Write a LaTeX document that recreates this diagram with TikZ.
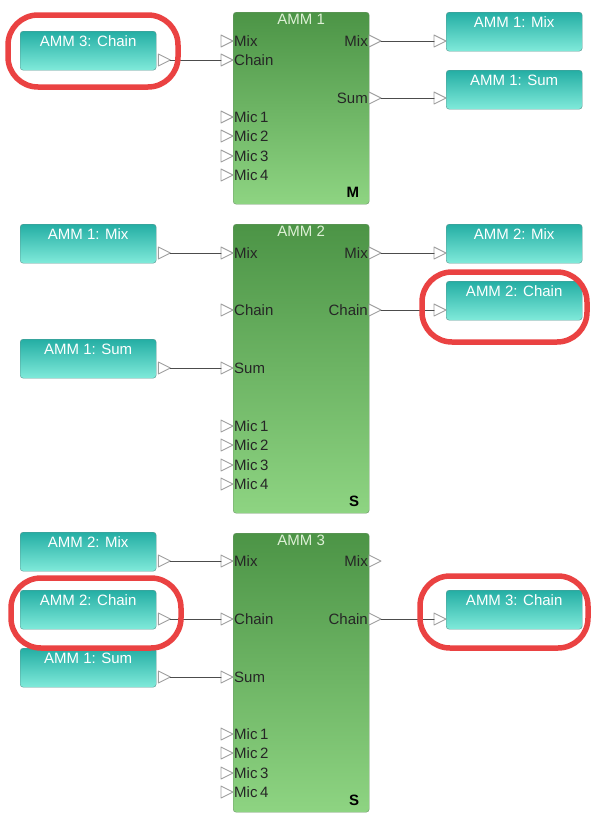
\documentclass[tikz,border=0pt]{standalone}
\usepackage{fontspec}
\setmainfont{Liberation Sans}
\usetikzlibrary{calc}

\definecolor{blktop}{RGB}{76,148,70}
\definecolor{blkbot}{RGB}{142,212,130}
\definecolor{blkedge}{RGB}{110,150,105}
\definecolor{srctop}{RGB}{36,174,164}
\definecolor{srcbot}{RGB}{128,234,218}
\definecolor{srcedge}{RGB}{90,150,145}
\definecolor{hilite}{RGB}{234,66,66}
\definecolor{ttlcol}{RGB}{222,240,214}

\tikzset{
  blk/.style={draw=blkedge, rounded corners=3pt, top color=blktop, bottom color=blkbot,
    minimum width=136pt, anchor=north west, inner sep=0pt},
  src/.style={draw=srcedge, rounded corners=3pt, top color=srctop, bottom color=srcbot,
    minimum width=136pt, text height=12pt, text depth=21pt, inner ysep=3pt,
    text=white, font=\fontsize{15}{17}\selectfont, anchor=north west},
  ttl/.style={text=ttlcol, font=\fontsize{15}{17}\selectfont, inner sep=2pt, anchor=north},
  plbl/.style={text=black!85, font=\fontsize{15}{17}\selectfont, inner sep=1pt},
  mode/.style={font=\fontsize{15}{17}\selectfont\bfseries, inner sep=0pt, anchor=south east},
  port/.style={draw=gray!75, fill=white, line width=0.9pt, line join=round},
  wire/.style={draw=black!70, line width=1pt},
  ring/.style={draw=hilite, line width=5.5pt, rounded corners=30pt},
}

\newcommand{\tri}[1]{\draw[port] (#1) -- ++(-12,-6) -- ++(0,12) -- cycle;}
\newcommand{\inport}[3]{\coordinate (#1) at (233,#2); \tri{#1}
  \node[plbl,anchor=west] (#1-l) at (#1) {#3};}
\newcommand{\outport}[3]{\coordinate (#1) at (381,#2); \tri{#1}
  \node[plbl,anchor=east] (#1-l) at ([xshift=-12pt]#1) {#3};}

\begin{document}
\begin{tikzpicture}[x=1pt,y=-1pt,line cap=round]
	\useasboundingbox (0,0) rectangle (590,819);

	% AMM 1
	\node[blk, minimum height=192pt] (amm1) at (233,12) {};
	\node[ttl] (amm1-t) at (amm1.north) {AMM 1};
	\node[mode] (amm1-m) at ([xshift=-10pt,yshift=7pt]amm1.south east) {M};
	\inport{a1-mix}{41}{Mix}
	\inport{a1-chain}{60}{Chain}
	\foreach \y [count=\i] in {117,136,156,175} {\inport{a1-mic\i}{\y}{Mic\,\i}}
	\outport{a1-omix}{41}{Mix}
	\outport{a1-osum}{98}{Sum}

	\node[src] (s13) at (20,31) {AMM 3: Chain};
	\node[src] (r11) at (446,12) {AMM 1: Mix};
	\node[src] (r12) at (446,70) {AMM 1: Sum};
	\coordinate (s13-o) at ($(s13.east |- a1-chain)+(14,0)$);
	\coordinate (r11-i) at (r11.west |- a1-omix);
	\coordinate (r12-i) at (r12.west |- a1-osum);
	\tri{s13-o} \tri{r11-i} \tri{r12-i}
	\draw[wire] (s13-o) -- ([xshift=-12pt]a1-chain);
	\draw[wire] (a1-omix) -- ([xshift=-12pt]r11-i);
	\draw[wire] (a1-osum) -- ([xshift=-12pt]r12-i);

	% AMM 2
	\node[blk, minimum height=289pt] (amm2) at (233,224) {};
	\node[ttl] (amm2-t) at (amm2.north) {AMM 2};
	\node[mode] (amm2-m) at ([xshift=-10pt,yshift=7pt]amm2.south east) {S};
	\inport{a2-mix}{253}{Mix}
	\inport{a2-chain}{310}{Chain}
	\inport{a2-sum}{368}{Sum}
	\foreach \y [count=\i] in {426,445,465,484} {\inport{a2-mic\i}{\y}{Mic\,\i}}
	\outport{a2-omix}{253}{Mix}
	\outport{a2-ochain}{310}{Chain}

	\node[src] (l21) at (20,224) {AMM 1: Mix};
	\node[src] (l22) at (20,339) {AMM 1: Sum};
	\node[src] (r21) at (446,224) {AMM 2: Mix};
	\node[src] (r22) at (446,281) {AMM 2: Chain};
	\coordinate (l21-o) at ($(l21.east |- a2-mix)+(14,0)$);
	\coordinate (l22-o) at ($(l22.east |- a2-sum)+(14,0)$);
	\coordinate (r21-i) at (r21.west |- a2-omix);
	\coordinate (r22-i) at (r22.west |- a2-ochain);
	\tri{l21-o} \tri{l22-o} \tri{r21-i} \tri{r22-i}
	\draw[wire] (l21-o) -- ([xshift=-12pt]a2-mix);
	\draw[wire] (l22-o) -- ([xshift=-12pt]a2-sum);
	\draw[wire] (a2-omix) -- ([xshift=-12pt]r21-i);
	\draw[wire] (a2-ochain) -- ([xshift=-12pt]r22-i);

	% AMM 3
	\node[blk, minimum height=279pt] (amm3) at (233,533) {};
	\node[ttl] (amm3-t) at (amm3.north) {AMM 3};
	\node[mode] (amm3-m) at ([xshift=-10pt,yshift=7pt]amm3.south east) {S};
	\inport{a3-mix}{561}{Mix}
	\inport{a3-chain}{619}{Chain}
	\inport{a3-sum}{677}{Sum}
	\foreach \y [count=\i] in {734,753,773,792} {\inport{a3-mic\i}{\y}{Mic\,\i}}
	\outport{a3-omix}{561}{Mix}
	\outport{a3-ochain}{619}{Chain}

	\node[src] (l31) at (20,532) {AMM 2: Mix};
	\node[src] (l32) at (20,590) {AMM 2: Chain};
	\node[src] (l33) at (20,648) {AMM 1: Sum};
	\node[src] (r31) at (446,590) {AMM 3: Chain};
	\coordinate (l31-o) at ($(l31.east |- a3-mix)+(14,0)$);
	\coordinate (l32-o) at ($(l32.east |- a3-chain)+(14,0)$);
	\coordinate (l33-o) at ($(l33.east |- a3-sum)+(14,0)$);
	\coordinate (r31-i) at (r31.west |- a3-ochain);
	\tri{l31-o} \tri{l32-o} \tri{l33-o} \tri{r31-i}
	\draw[wire] (l31-o) -- ([xshift=-12pt]a3-mix);
	\draw[wire] (l32-o) -- ([xshift=-12pt]a3-chain);
	\draw[wire] (l33-o) -- ([xshift=-12pt]a3-sum);
	\draw[wire] (a3-ochain) -- ([xshift=-12pt]r31-i);

	% rings
	\draw[ring] (8,15) rectangle (178,87);
	\draw[ring] (422,272) rectangle (587,342);
	\draw[ring] (11,578) rectangle (181,648);
	\draw[ring] (420,576) rectangle (588,648);
\end{tikzpicture}
\end{document}
